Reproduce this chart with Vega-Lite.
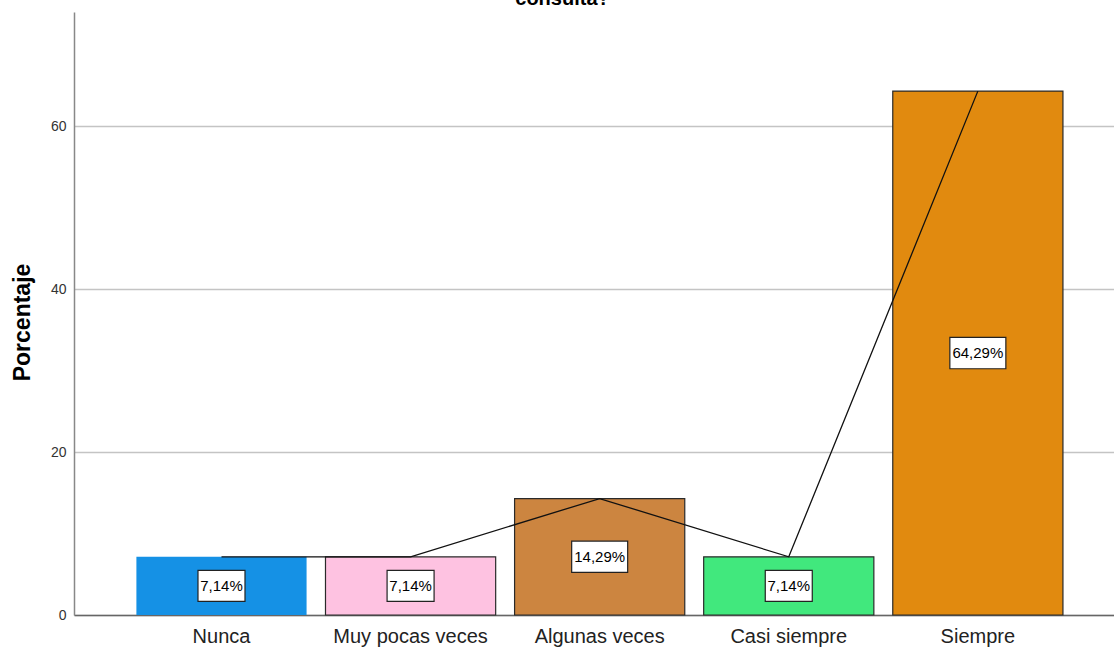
{
  "$schema": "https://vega.github.io/schema/vega-lite/v6.json",
  "autosize": "none",
  "padding": {"left": 74, "top": 12, "right": 0, "bottom": 40},
  "width": 1040,
  "height": 603,
  "background": "white",
  "title": {
    "text": "consulta?",
    "anchor": "middle",
    "frame": "bounds",
    "font": "Liberation Sans, Arial",
    "fontSize": 20,
    "fontWeight": "bold",
    "color": "#000000",
    "baseline": "alphabetic",
    "offset": 0,
    "dy": 13
  },
  "config": {
    "view": {"stroke": null},
    "font": "Liberation Sans, Arial"
  },
  "data": {
    "values": [
      {"cat": "Nunca", "v": 7.14, "label": "7,14%"},
      {"cat": "Muy pocas veces", "v": 7.14, "label": "7,14%"},
      {"cat": "Algunas veces", "v": 14.29, "label": "14,29%"},
      {"cat": "Casi siempre", "v": 7.14, "label": "7,14%"},
      {"cat": "Siempre", "v": 64.29, "label": "64,29%"}
    ]
  },
  "encoding": {
    "x": {
      "field": "cat",
      "type": "nominal",
      "sort": null,
      "scale": {"paddingInner": 0.1, "paddingOuter": 0.3, "align": 0.55},
      "axis": {
        "title": null,
        "labelAngle": 0,
        "labelFontSize": 20,
        "labelLimit": 0,
        "labelColor": "#222222",
        "labelPadding": 11,
        "ticks": false,
        "domainColor": "#666666",
        "domainWidth": 1.5,
        "grid": false
      }
    },
    "y": {
      "field": "v",
      "type": "quantitative",
      "scale": {"domain": [0, 74], "nice": false},
      "axis": {
        "title": "Porcentaje",
        "titleFontSize": 23,
        "titleFontWeight": "bold",
        "titleColor": "#000000",
        "titleAngle": -90,
        "titleX": -52,
        "titleY": 310,
        "titleAlign": "center",
        "titleBaseline": "middle",
        "values": [0, 20, 40, 60],
        "labelFontSize": 14,
        "labelColor": "#333333",
        "labelPadding": 8,
        "ticks": false,
        "domainColor": "#888888",
        "domainWidth": 1.5,
        "gridColor": "#c4c4c4",
        "gridWidth": 1.3
      }
    }
  },
  "layer": [
    {
      "mark": {"type": "bar", "stroke": "#2a2a2a", "strokeWidth": 1.2},
      "encoding": {
        "color": {
          "field": "cat",
          "type": "nominal",
          "sort": null,
          "scale": {
            "domain": ["Nunca", "Muy pocas veces", "Algunas veces", "Casi siempre", "Siempre"],
            "range": ["#1591E5", "#FEC2E1", "#CC8540", "#41E87D", "#E18A0F"]
          },
          "legend": null
        },
        "strokeOpacity": {"condition": {"test": "datum.cat === 'Nunca'", "value": 0}, "value": 1}
      }
    },
    {
      "mark": {"type": "line", "color": "#111111", "strokeWidth": 1.3}
    },
    {
      "mark": {"type": "point", "filled": true, "fill": "white", "stroke": "#222222", "strokeWidth": 1.2, "opacity": 1},
      "encoding": {
        "y": {"field": "v", "type": "quantitative", "stack": "zero", "bandPosition": 0.5},
        "shape": {"condition": {"test": "datum.v > 10", "value": "M-1,-0.56H1V0.56H-1Z"}, "value": "M-1,-0.66H1V0.66H-1Z"},
        "size": {"condition": {"test": "datum.v > 10", "value": 3136}, "value": 2209}
      }
    },
    {
      "mark": {"type": "text", "fontSize": 15, "color": "#000000", "baseline": "middle", "align": "center"},
      "encoding": {
        "y": {"field": "v", "type": "quantitative", "stack": "zero", "bandPosition": 0.5},
        "text": {"field": "label"}
      }
    }
  ]
}
